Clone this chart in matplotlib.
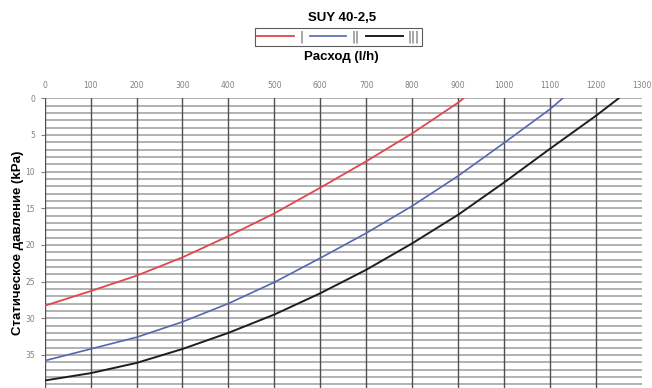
import matplotlib
matplotlib.use("Agg")
import matplotlib.pyplot as plt

# Data
flow_red = [0, 100, 200, 300, 400, 500, 600, 700, 800, 900, 912]
pres_red = [28.3, 26.3, 24.2, 21.7, 18.8, 15.7, 12.2, 8.6, 4.8, 0.6, 0.0]

flow_blue = [0, 100, 200, 300, 400, 500, 600, 700, 800, 900, 1000, 1100, 1128]
pres_blue = [35.8, 34.2, 32.6, 30.5, 28.0, 25.1, 21.8, 18.4, 14.7, 10.6, 6.1, 1.5, 0.0]

flow_black = [0, 100, 200, 300, 400, 500, 600, 700, 800, 900, 1000, 1100, 1200, 1250]
pres_black = [38.5, 37.5, 36.1, 34.2, 32.0, 29.5, 26.6, 23.4, 19.8, 15.9, 11.5, 6.9, 2.4, 0.0]

series_labels = ["|", "||", "|||"]
x_ticks = list(range(0, 1301, 100))
y_ticks = list(range(0, 36, 5))

W, H = 652, 388
fig = plt.figure(figsize=(W / 100, H / 100), dpi=100)
left, right, top, bottom = 44.7, 641.7, 98.3, 388
ax = fig.add_axes([left / W, 1 - bottom / H, (right - left) / W, (bottom - top) / H])

ax.set_xlim(0, 1300)
ax.set_ylim((bottom - top) / 7.33, 0)

# grid
for yv in range(0, 40):
    ax.axhline(yv, color="#ababab", lw=1.3, zorder=1)
for xv in x_ticks[:-1]:
    ax.axvline(xv, color="#505050", lw=1.0, zorder=2)

l1, = ax.plot(flow_red, pres_red, color="#e0474c", lw=1.3, zorder=3)
l2, = ax.plot(flow_blue, pres_blue, color="#5466b4", lw=1.2, zorder=3)
l3, = ax.plot(flow_black, pres_black, color="#1e1e1e", lw=1.4, zorder=3)

for s in ax.spines.values():
    s.set_visible(False)

ax.xaxis.tick_top()
ax.set_xticks(x_ticks)
ax.set_xticklabels([str(v) for v in x_ticks], fontsize=5.5, color="#808080", family="DejaVu Sans")
ax.tick_params(axis="x", length=0, pad=6)
ax.set_yticks(y_ticks)
ax.set_yticklabels([str(v) for v in y_ticks], fontsize=5.5, color="#808080", family="DejaVu Sans")
ax.tick_params(axis="y", length=3, width=0.8, color="#808080", pad=4)

fig.text(341.7 / W, 1 - 18 / H, "SUY 40-2,5", ha="center", va="center",
         fontsize=9.5, fontweight="bold", family="Liberation Sans")
fig.text(341.7 / W, 1 - 57 / H, "Расход (l/h)", ha="center", va="center",
         fontsize=9.5, fontweight="bold", family="Liberation Sans")
fig.text(18 / W, 1 - 243 / H, "Статическое давление (kPa)", ha="center", va="center",
         rotation=90, fontsize=9.5, fontweight="bold", family="Liberation Sans")

leg = fig.legend([l1, l2, l3], series_labels, loc="center", bbox_to_anchor=(338.5 / W, 1 - 37 / H),
                 ncol=3, frameon=True, fancybox=False, edgecolor="#333333",
                 handlelength=3.1, handletextpad=0.45, columnspacing=0.55,
                 borderpad=0.2, prop={"family": "DejaVu Sans", "size": 8.5})
leg.get_frame().set_linewidth(0.8)
for t in leg.get_texts():
    t.set_color("#555555")

fig.savefig("out.png", dpi=100)
